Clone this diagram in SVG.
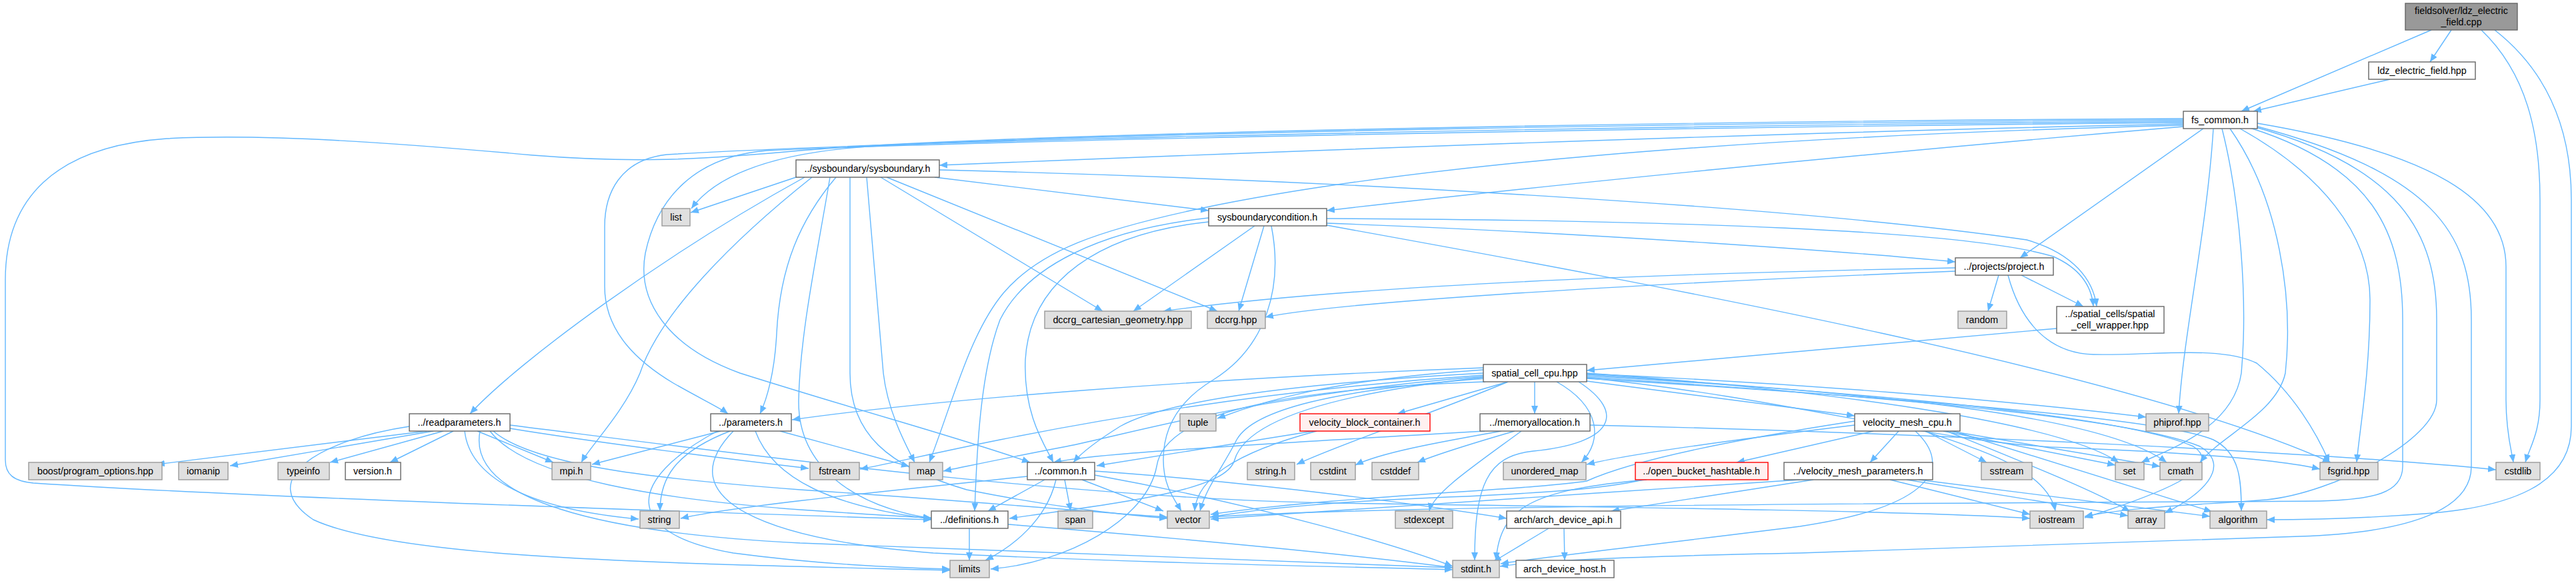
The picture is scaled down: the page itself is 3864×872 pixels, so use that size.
<svg xmlns="http://www.w3.org/2000/svg" width="3864" height="872" viewBox="0 0 3864 872">
<style>
text{font-family:"Liberation Sans",Arial,sans-serif;font-size:14.3px;text-anchor:middle;fill:#000}
.w rect{fill:#fff;stroke:#666;stroke-width:1.4}
.g rect{fill:#e0e0e0;stroke:#999;stroke-width:1.4}
.r rect{fill:#fff0f0;stroke:#f00;stroke-width:1.4}
.s rect{fill:#999;stroke:#666;stroke-width:1.4}
.e path{fill:none;stroke:#63b8ff;stroke-width:1.4;marker-end:url(#a)}
</style>
<defs>
<marker id="a" viewBox="0 0 12 10" refX="12" refY="5" markerWidth="12" markerHeight="10" markerUnits="userSpaceOnUse" orient="auto"><path d="M0,0 L12,5 L0,10 z" fill="#63b8ff"/></marker>
</defs>
<rect x="0" y="0" width="3864" height="872" fill="#fff"/>
<g id="edges" class="e">
<path d="M3647 45 L3362 167"/>
<path d="M3677 45 L3645 93"/>
<path d="M3722 45 C3790 110 3810 200 3810 300 L3810 600 C3810 650 3795 670 3788 694"/>
<path d="M3742 45 C3825 110 3857 200 3857 300 L3857 640 C3857 730 3760 760 3650 770 C3550 778 3450 780 3400 780"/>
<path d="M3585 119 L3380 167"/>
<path d="M3275 186 C2700 198 1900 228 1409 248"/>
<path d="M3275 180 C2600 184 1700 198 1300 220 C1160 230 1075 262 1037 313"/>
<path d="M3275 178 C2500 182 1500 200 1200 226 C1050 240 950 245 800 233 C600 215 400 200 250 208 C80 220 8 300 8 420 L8 690 C8 712 20 722 50 725 C400 748 1100 770 1397 780"/>
<path d="M3275 182 C2500 188 1400 208 1000 232 C930 240 907 290 907 340 L907 430 C907 500 960 545 1010 575 C1050 598 1080 612 1092 621"/>
<path d="M3275 184 C2400 192 1450 212 1150 226 C1040 235 985 300 968 380 C955 450 1000 520 1110 560 C1300 620 1450 660 1545 694"/>
<path d="M3275 188 C2600 205 2100 250 1800 313 C1650 345 1560 375 1505 440 C1455 500 1430 600 1394 694"/>
<path d="M3275 190 C2800 230 2300 280 1990 316"/>
<path d="M3305 193 L3030 387"/>
<path d="M3320 193 C3310 350 3275 500 3268 621"/>
<path d="M3333 193 C3360 300 3372 450 3362 560 C3350 640 3260 672 3212 694"/>
<path d="M3345 193 C3420 300 3440 450 3428 560 C3415 620 3330 655 3300 694"/>
<path d="M3360 193 C3480 260 3555 350 3555 450 C3555 560 3540 640 3535 694"/>
<path d="M3375 192 C3560 250 3604 350 3604 480 L3604 700 C3604 740 3560 750 3480 752 C3000 755 2100 757 1815 776"/>
<path d="M3380 190 C3600 250 3655 350 3655 480 L3655 600 C3655 660 3500 740 3400 750 C3300 758 3200 760 3127 775"/>
<path d="M3383 189 C3650 260 3707 350 3707 480 L3707 700 C3707 770 3600 800 3450 805 C3100 815 2900 825 2700 830 C2450 835 2300 842 2250 850"/>
<path d="M3386 185 C3650 230 3759 300 3759 400 L3759 600 C3759 650 3768 680 3770 694"/>
<path d="M2998 413 L2982 467"/>
<path d="M3032 413 L3125 460"/>
<path d="M2933 402 C2400 412 2000 432 1745 467"/>
<path d="M2933 407 C2400 428 2000 455 1898 476"/>
<path d="M3012 413 C3030 480 3070 530 3140 532 C3230 534 3330 518 3385 545 C3440 590 3475 650 3494 694"/>
<path d="M3085 493 L2380 556"/>
<path d="M1197 265 L1036 319"/>
<path d="M1207 266 C1000 380 780 540 705 621"/>
<path d="M1218 266 C1100 360 990 470 960 560 C935 620 885 670 872 694"/>
<path d="M1254 266 C1200 330 1170 400 1165 500 C1162 560 1150 600 1140 621"/>
<path d="M1245 266 C1226 380 1200 500 1198 600 C1196 700 1280 760 1397 778"/>
<path d="M1275 266 L1275 560 C1275 650 1330 700 1450 735 C1600 765 1700 774 1751 778"/>
<path d="M1300 266 L1325 560 C1332 620 1360 670 1372 694"/>
<path d="M1402 266 L1813 316"/>
<path d="M1321 266 L1654 467"/>
<path d="M1330 266 L1826 467"/>
<path d="M1409 255 C2000 270 2700 310 3040 360 C3110 380 3140 420 3145 460"/>
<path d="M1882 339 L1700 467"/>
<path d="M1896 339 L1858 467"/>
<path d="M1813 327 C1650 345 1540 400 1500 480 C1470 560 1465 680 1462 767"/>
<path d="M1813 333 C1650 350 1545 420 1538 540 C1535 620 1565 665 1580 694"/>
<path d="M1907 339 C1925 430 1900 520 1820 570 C1770 600 1745 640 1745 690 C1745 730 1762 750 1772 767"/>
<path d="M1990 335 C2400 350 2800 380 2933 393"/>
<path d="M1990 328 C2500 330 2950 345 3080 385 C3125 405 3138 435 3140 460"/>
<path d="M1990 338 C2500 430 3200 560 3496 694"/>
<path d="M2302 573 L2302 621"/>
<path d="M2380 572 L2782 624"/>
<path d="M2380 561 C2700 575 3000 600 3219 626"/>
<path d="M2335 573 C2400 610 2405 660 2372 694"/>
<path d="M2368 573 C2440 620 2420 665 2300 677 C2230 684 2212 730 2212 841"/>
<path d="M2225 555 C2000 570 1900 600 1826 628"/>
<path d="M2262 573 L2096 621"/>
<path d="M2225 552 C1800 568 1400 600 1188 630"/>
<path d="M2225 560 C1950 575 1750 600 1680 640 C1640 665 1620 682 1610 694"/>
<path d="M2225 565 C1900 590 1700 650 1600 670 C1520 685 1450 700 1415 707"/>
<path d="M2225 563 C1900 585 1650 630 1500 660 C1400 680 1330 697 1290 704"/>
<path d="M2228 566 C2000 590 1870 630 1852 690 C1840 735 1700 752 1514 778"/>
<path d="M2228 568 C2000 585 1880 615 1855 660 C1835 700 1810 730 1800 767"/>
<path d="M2228 573 C1880 585 1745 630 1735 700 C1720 780 1600 845 1486 854"/>
<path d="M2262 573 C2150 620 2000 670 1945 697"/>
<path d="M2380 560 C2800 590 3100 640 3178 694"/>
<path d="M2380 562 C2800 590 3150 620 3250 694"/>
<path d="M2380 564 C2900 595 3200 630 3290 670 C3335 700 3260 735 3127 777"/>
<path d="M2380 566 C2900 600 3200 630 3300 670 C3350 700 3300 745 3247 770"/>
<path d="M2380 568 C2900 600 3250 630 3320 660 C3360 680 3362 720 3362 767"/>
<path d="M2380 567 C2700 600 2900 665 3100 672 C3300 680 3420 690 3480 704"/>
<path d="M2227 647 C2000 660 1800 672 1700 680 C1650 684 1600 690 1580 694"/>
<path d="M2252 647 C2150 665 2070 680 2033 698"/>
<path d="M2272 647 C2210 665 2160 680 2126 694"/>
<path d="M2282 647 C2210 700 2150 740 2144 767"/>
<path d="M2385 638 C2900 650 3500 680 3744 705"/>
<path d="M2782 638 C2600 660 2450 680 2380 697"/>
<path d="M2810 647 L2605 694"/>
<path d="M2848 647 L2805 694"/>
<path d="M2888 647 L2980 694"/>
<path d="M2915 647 L3173 698"/>
<path d="M2925 647 L3240 700"/>
<path d="M2887 647 C2950 670 3070 700 3083 767"/>
<path d="M2930 647 L3318 768"/>
<path d="M2920 647 C3050 700 3150 740 3195 768"/>
<path d="M2873 647 C2930 700 2900 760 2700 790 C2500 815 2300 838 2251 846"/>
<path d="M2782 632 C2600 660 2450 690 2380 722 C2300 735 2000 745 1816 772"/>
<path d="M2720 720 L2417 767"/>
<path d="M2835 720 L3045 772"/>
<path d="M2860 720 L3192 774"/>
<path d="M2878 720 L3315 775"/>
<path d="M2700 720 C2400 740 2000 765 1816 779"/>
<path d="M2465 720 C2400 735 2300 740 2200 745 C2000 752 1880 765 1816 776"/>
<path d="M2470 720 C2300 735 2250 760 2244 841"/>
<path d="M2323 793 L2240 843"/>
<path d="M2346 793 L2347 841"/>
<path d="M1567 720 L1482 767"/>
<path d="M1597 720 L1606 767"/>
<path d="M1623 720 L1745 767"/>
<path d="M1584 720 C1570 780 1520 820 1478 841"/>
<path d="M1642 713 C1900 760 2100 820 2179 850"/>
<path d="M1541 715 C1300 740 1100 760 1021 778"/>
<path d="M1642 707 C1900 725 2150 760 2260 778"/>
<path d="M1454 793 L1454 841"/>
<path d="M1512 787 C1800 810 2050 835 2179 852"/>
<path d="M1970 647 L1645 699"/>
<path d="M1975 647 C1850 680 1795 720 1792 767"/>
<path d="M1081 647 L888 697"/>
<path d="M1095 647 C1010 680 990 720 990 767"/>
<path d="M1076 647 C940 720 930 800 1100 830 C1250 850 1380 853 1425 854"/>
<path d="M1133 647 C1160 720 1250 760 1397 779"/>
<path d="M1170 647 L1364 700"/>
<path d="M1100 647 C1000 750 1150 810 1400 830 C1700 845 2000 850 2179 855"/>
<path d="M640 647 L235 697"/>
<path d="M650 647 L345 699"/>
<path d="M665 647 L495 694"/>
<path d="M680 647 L585 694"/>
<path d="M716 647 L830 694"/>
<path d="M697 647 C705 720 800 765 958 779"/>
<path d="M765 643 C900 665 1100 690 1213 703"/>
<path d="M765 638 C1100 680 1600 748 2000 755 C2500 762 2900 768 3045 778"/>
<path d="M740 647 C800 700 1000 720 1200 735 C1500 755 1650 770 1751 776"/>
<path d="M735 647 C790 720 1000 750 1200 765 C1300 772 1360 776 1397 777"/>
<path d="M614 640 C480 660 380 720 470 780 C600 840 1000 845 1425 856"/>
<path d="M720 647 C700 750 900 800 1200 815 C1600 830 2000 845 2179 852"/>
</g>
<g id="n_root" class="s"><rect x="3608" y="5" width="168" height="40"/><text x="3692" y="21">fieldsolver/ldz_electric</text><text x="3692" y="38">_field.cpp</text></g>
<g id="n_ldz" class="w"><rect x="3553" y="93" width="160" height="26"/><text x="3633" y="111">ldz_electric_field.hpp</text></g>
<g id="n_fs_common" class="w"><rect x="3275" y="167" width="111" height="26"/><text x="3330" y="185">fs_common.h</text></g>
<g id="n_sysboundary" class="w"><rect x="1194" y="240" width="215" height="26"/><text x="1301" y="258">../sysboundary/sysboundary.h</text></g>
<g id="n_list" class="g"><rect x="993" y="313" width="42" height="26"/><text x="1014" y="331">list</text></g>
<g id="n_sysbc" class="w"><rect x="1813" y="313" width="177" height="26"/><text x="1901" y="331">sysboundarycondition.h</text></g>
<g id="n_project" class="w"><rect x="2933" y="387" width="147" height="26"/><text x="3006" y="405">../projects/project.h</text></g>
<g id="n_dccrg_cart" class="g"><rect x="1567" y="467" width="220" height="26"/><text x="1677" y="485">dccrg_cartesian_geometry.hpp</text></g>
<g id="n_dccrg" class="g"><rect x="1811" y="467" width="87" height="26"/><text x="1854" y="485">dccrg.hpp</text></g>
<g id="n_random" class="g"><rect x="2937" y="467" width="73" height="26"/><text x="2973" y="485">random</text></g>
<g id="n_scw" class="w"><rect x="3085" y="460" width="161" height="40"/><text x="3165" y="476">../spatial_cells/spatial</text><text x="3165" y="493">_cell_wrapper.hpp</text></g>
<g id="n_scc" class="w"><rect x="2225" y="547" width="155" height="26"/><text x="2302" y="565">spatial_cell_cpu.hpp</text></g>
<g id="n_readparameters" class="w"><rect x="614" y="621" width="151" height="26"/><text x="689" y="639">../readparameters.h</text></g>
<g id="n_parameters" class="w"><rect x="1066" y="621" width="121" height="26"/><text x="1126" y="639">../parameters.h</text></g>
<g id="n_tuple" class="g"><rect x="1770" y="621" width="54" height="26"/><text x="1797" y="639">tuple</text></g>
<g id="n_vbc" class="r"><rect x="1950" y="621" width="195" height="26"/><text x="2047" y="639">velocity_block_container.h</text></g>
<g id="n_memalloc" class="w"><rect x="2220" y="621" width="165" height="26"/><text x="2302" y="639">../memoryallocation.h</text></g>
<g id="n_vmc" class="w"><rect x="2782" y="621" width="158" height="26"/><text x="2861" y="639">velocity_mesh_cpu.h</text></g>
<g id="n_phiprof" class="g"><rect x="3219" y="621" width="94" height="26"/><text x="3266" y="639">phiprof.hpp</text></g>
<g id="n_boost" class="g"><rect x="43" y="694" width="200" height="26"/><text x="143" y="712">boost/program_options.hpp</text></g>
<g id="n_iomanip" class="g"><rect x="268" y="694" width="74" height="26"/><text x="305" y="712">iomanip</text></g>
<g id="n_typeinfo" class="g"><rect x="417" y="694" width="77" height="26"/><text x="455" y="712">typeinfo</text></g>
<g id="n_version" class="w"><rect x="518" y="694" width="83" height="26"/><text x="559" y="712">version.h</text></g>
<g id="n_mpi" class="g"><rect x="828" y="694" width="58" height="26"/><text x="857" y="712">mpi.h</text></g>
<g id="n_fstream" class="g"><rect x="1215" y="694" width="74" height="26"/><text x="1252" y="712">fstream</text></g>
<g id="n_map" class="g"><rect x="1364" y="694" width="50" height="26"/><text x="1389" y="712">map</text></g>
<g id="n_common" class="w"><rect x="1541" y="694" width="101" height="26"/><text x="1591" y="712">../common.h</text></g>
<g id="n_string_h" class="g"><rect x="1871" y="694" width="71" height="26"/><text x="1906" y="712">string.h</text></g>
<g id="n_cstdint" class="g"><rect x="1966" y="694" width="67" height="26"/><text x="1999" y="712">cstdint</text></g>
<g id="n_cstddef" class="g"><rect x="2058" y="694" width="70" height="26"/><text x="2093" y="712">cstddef</text></g>
<g id="n_unordered_map" class="g"><rect x="2255" y="694" width="124" height="26"/><text x="2317" y="712">unordered_map</text></g>
<g id="n_obh" class="r"><rect x="2453" y="694" width="199" height="26"/><text x="2552" y="712">../open_bucket_hashtable.h</text></g>
<g id="n_vmp" class="w"><rect x="2676" y="694" width="223" height="26"/><text x="2787" y="712">../velocity_mesh_parameters.h</text></g>
<g id="n_sstream" class="g"><rect x="2972" y="694" width="76" height="26"/><text x="3010" y="712">sstream</text></g>
<g id="n_set" class="g"><rect x="3173" y="694" width="43" height="26"/><text x="3194" y="712">set</text></g>
<g id="n_cmath" class="g"><rect x="3240" y="694" width="63" height="26"/><text x="3271" y="712">cmath</text></g>
<g id="n_fsgrid" class="g"><rect x="3480" y="694" width="87" height="26"/><text x="3523" y="712">fsgrid.hpp</text></g>
<g id="n_cstdlib" class="g"><rect x="3744" y="694" width="66" height="26"/><text x="3777" y="712">cstdlib</text></g>
<g id="n_string" class="g"><rect x="960" y="767" width="59" height="26"/><text x="989" y="785">string</text></g>
<g id="n_definitions" class="w"><rect x="1397" y="767" width="115" height="26"/><text x="1454" y="785">../definitions.h</text></g>
<g id="n_span" class="g"><rect x="1587" y="767" width="52" height="26"/><text x="1613" y="785">span</text></g>
<g id="n_vector" class="g"><rect x="1751" y="767" width="63" height="26"/><text x="1782" y="785">vector</text></g>
<g id="n_stdexcept" class="g"><rect x="2093" y="767" width="86" height="26"/><text x="2136" y="785">stdexcept</text></g>
<g id="n_arch_api" class="w"><rect x="2260" y="767" width="171" height="26"/><text x="2345" y="785">arch/arch_device_api.h</text></g>
<g id="n_iostream" class="g"><rect x="3045" y="767" width="80" height="26"/><text x="3085" y="785">iostream</text></g>
<g id="n_array" class="g"><rect x="3192" y="767" width="55" height="26"/><text x="3219" y="785">array</text></g>
<g id="n_algorithm" class="g"><rect x="3315" y="767" width="85" height="26"/><text x="3357" y="785">algorithm</text></g>
<g id="n_limits" class="g"><rect x="1425" y="841" width="59" height="26"/><text x="1454" y="859">limits</text></g>
<g id="n_stdint" class="g"><rect x="2179" y="841" width="70" height="26"/><text x="2214" y="859">stdint.h</text></g>
<g id="n_arch_host" class="w"><rect x="2274" y="841" width="147" height="26"/><text x="2347" y="859">arch_device_host.h</text></g>
</svg>
